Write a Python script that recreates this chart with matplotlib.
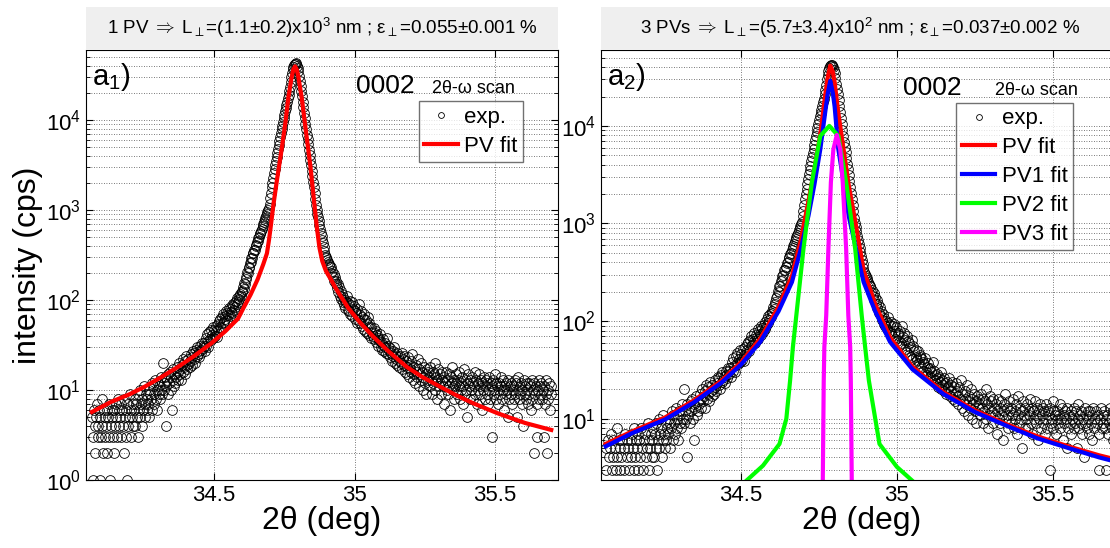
import matplotlib
matplotlib.use("Agg")
import matplotlib.pyplot as plt
import numpy as np
from matplotlib.patches import Rectangle
from matplotlib.ticker import LogLocator, NullFormatter, FixedLocator

plt.rcParams["font.family"] = ["Liberation Sans", "DejaVu Sans"]
plt.rcParams["mathtext.fontset"] = "custom"
plt.rcParams["mathtext.rm"] = "Liberation Sans"
plt.rcParams["mathtext.it"] = "Liberation Sans"
plt.rcParams["mathtext.bf"] = "Liberation Sans:bold"

# measured 2theta-omega scan (counts), step 0.0025 deg starting at 34.065
scan_start = 34.065
scan_step = 0.0025
counts = [
    5, 3, 1, 6, 4, 2, 5, 7, 3, 4, 6, 1, 5, 3, 8, 4, 2, 6, 5, 3,
    4, 6, 2, 5, 3, 7, 1, 4, 6, 5, 3, 2, 6, 4, 7, 5, 3, 8, 4, 6,
    5, 3, 7, 6, 4, 2, 8, 5, 3, 6, 1, 7, 4, 5, 9, 3, 6, 5, 7, 4,
    6, 8, 4, 7, 5, 9, 3, 6, 10, 5, 7, 8, 4, 6, 11, 7, 5, 9, 6, 8,
    7, 10, 5, 9, 8, 12, 6, 11, 9, 7, 13, 8, 10, 6, 12, 9, 11, 8, 14, 10,
    9, 20, 12, 10, 14, 4, 11, 13, 9, 15, 12, 16, 10, 14, 6, 13, 17, 11, 15, 12,
    14, 18, 13, 16, 20, 15, 17, 13, 19, 22, 16, 18, 21, 15, 24, 19, 17, 22, 20, 18,
    21, 25, 19, 23, 27, 22, 26, 20, 28, 24, 30, 25, 27, 23, 31, 28, 26, 33, 29, 31,
    33, 27, 38, 31, 42, 35, 30, 44, 37, 47, 36, 41, 50, 38, 46, 40, 52, 45, 39, 54,
    46, 58, 50, 61, 49, 64, 55, 70, 57, 66, 62, 75, 60, 72, 68, 82, 66, 79, 74, 88,
    72, 85, 78, 92, 83, 98, 90, 104, 96, 112, 103, 118, 110, 126, 122, 140, 134, 156, 150, 172,
    180, 205, 200, 230, 228, 258, 262, 290, 296, 330, 330, 360, 362, 398, 405, 445, 450, 490, 500, 540,
    562, 592, 623, 656, 691, 727, 766, 806, 850, 895, 943, 990, 1040, 1180, 1350, 1550, 1780, 2010, 2260, 2550,
    2870, 3190, 3550, 3920, 4330, 4780, 5280, 5830, 6440, 7110, 7850, 8670, 9570, 10500, 11500, 12500, 13500, 14700, 16000, 17400,
    19000, 21000, 23500, 26500, 30000, 33500, 36500, 39000, 41000, 42000, 42500, 41500, 40000, 37500, 35000, 31000, 27000, 24000, 21000, 18500,
    16000, 14000, 12000, 10500, 9100, 7900, 6900, 6100, 5350, 4700, 4100, 3600, 3160, 2740, 2370, 2050, 1780, 1540, 1330, 1150,
    1000, 910, 830, 750, 680, 620, 560, 510, 465, 425, 385, 350, 316, 303, 290, 277, 265, 253, 242, 231,
    230, 198, 210, 180, 195, 164, 178, 150, 163, 136, 150, 122, 138, 112, 126, 102, 118, 94, 108, 88,
    100, 82, 96, 110, 78, 92, 76, 98, 70, 88, 94, 66, 80, 86, 62, 76, 72, 56, 80, 60,
    90, 55, 68, 75, 52, 64, 48, 70, 62, 45, 60, 54, 43, 64, 41, 55, 49, 38, 50, 43,
    40, 49, 37, 43, 45, 34, 41, 38, 31, 36, 42, 30, 34, 28, 37, 32, 27, 33, 30, 26,
    38, 25, 31, 28, 23, 29, 26, 21, 27, 24, 30, 20, 25, 22, 19, 26, 23, 18, 24, 21,
    20, 26, 17, 22, 19, 24, 16, 21, 18, 15, 23, 19, 14, 17, 21, 16, 25, 13, 18, 15,
    12, 19, 16, 14, 22, 11, 17, 15, 13, 20, 16, 10, 14, 18, 12, 15, 9, 17, 13, 16,
    14, 11, 18, 13, 9, 16, 12, 15, 20, 10, 14, 8, 13, 17, 11, 15, 12, 9, 16, 13,
    11, 14, 7, 12, 16, 10, 13, 9, 15, 11, 6, 14, 12, 18, 10, 13, 8, 11, 15, 12,
    9, 13, 11, 16, 8, 12, 10, 14, 7, 11, 17, 9, 13, 10, 5, 12, 15, 11, 8, 13,
    10, 14, 8, 12, 11, 16, 9, 13, 7, 12, 10, 15, 11, 9, 13, 6, 12, 10, 14, 8,
    11, 13, 9, 12, 7, 10, 14, 8, 12, 11, 3, 13, 9, 10, 15, 8, 12, 11, 7, 10,
    12, 9, 11, 14, 8, 10, 13, 6, 11, 9, 12, 10, 5, 13, 8, 11, 9, 12, 7, 10,
    11, 8, 13, 9, 12, 5, 10, 14, 8, 11, 9, 12, 7, 10, 4, 13, 9, 11, 8, 12,
    10, 7, 12, 9, 11, 6, 13, 8, 10, 2, 12, 9, 11, 7, 3, 10, 13, 8, 11, 9,
    12, 8, 10, 3, 11, 7, 9, 13, 2, 10, 8, 12, 6, 9, 11,
]
two_theta = scan_start + scan_step * np.arange(len(counts))

# single pseudo-Voigt fit (panel a1)
fit1_x = [34.065, 34.134, 34.2, 34.253, 34.31, 34.372, 34.43, 34.49, 34.54, 34.585,
          34.604, 34.63, 34.655, 34.675, 34.688, 34.695, 34.70, 34.711, 34.725, 34.741,
          34.753, 34.764, 34.776, 34.782, 34.788, 34.794, 34.800, 34.812, 34.827, 34.842,
          34.857, 34.866, 34.875, 34.885, 34.898, 34.913, 34.93, 34.948, 34.978, 35.02,
          35.067, 35.12, 35.186, 35.24, 35.304, 35.36, 35.423, 35.51, 35.607, 35.70]
fit1_y = [5.7, 7.4, 9.0, 10.9, 13.8, 18.1, 24, 33, 45, 62,
          81, 115, 170, 250, 330, 457, 600, 1140, 2300, 4880,
          9000, 17500, 30000, 36500, 39500, 36500, 30000, 17500, 7400, 3200,
          1150, 630, 380, 270, 210, 175, 140, 114, 81, 56,
          39, 27, 18, 14, 10.9, 8.8, 7.1, 5.5, 4.3, 3.6]

# three pseudo-Voigt fit (panel a2)
pv_x = [34.065, 34.15, 34.256, 34.35, 34.437, 34.5, 34.561, 34.62, 34.663, 34.69,
        34.716, 34.735, 34.754, 34.77, 34.778, 34.786, 34.794, 34.80, 34.812, 34.83,
        34.845, 34.87, 34.893, 34.93, 34.978, 35.05, 35.15, 35.25, 35.35, 35.45,
        35.55, 35.65, 35.72]
pv_sum = [5.5, 7.4, 10.3, 15.5, 24.5, 38, 66, 140, 290, 640,
          1700, 3600, 8200, 21000, 31500, 41500, 36000, 28000, 13500, 5400,
          2500, 900, 330, 150, 68, 34, 18.6, 12.2, 8.8, 6.6,
          5.2, 4.2, 3.7]
pv1 = [5.2, 7.1, 9.8, 14.8, 23.4, 36, 61, 126, 251, 525,
       1200, 2500, 5750, 14000, 21500, 29000, 22000, 15800, 5750, 2500,
       1200, 525, 251, 126, 61, 32, 17.8, 11.7, 8.5, 6.3,
       5.0, 4.0, 3.5]
pv2_x = [34.516, 34.57, 34.623, 34.645, 34.657, 34.666, 34.677, 34.70, 34.727, 34.754,
         34.783, 34.812, 34.837, 34.866, 34.887, 34.898, 34.91, 34.944, 35.0, 35.05]
pv2 = [2.3, 3.3, 5.5, 10, 24.5, 54, 114, 550, 2650, 7900,
       10000, 7900, 2650, 550, 114, 54, 24.5, 5.5, 3.2, 2.3]
pv3_x = [34.762, 34.765, 34.767, 34.773, 34.780, 34.788, 34.796, 34.807, 34.818,
         34.826, 34.837, 34.844, 34.850, 34.852, 34.855]
pv3 = [2.3, 24, 54, 114, 550, 2650, 5750, 8070, 5750,
       2650, 550, 114, 54, 24, 2.3]

W, H = 1110, 548
fig = plt.figure(figsize=(W / 100, H / 100), dpi=100)


def px_axes(x0, x1, y0, y1):
    return fig.add_axes([x0 / W, 1 - y1 / H, (x1 - x0) / W, (y1 - y0) / H])


def style(ax, xlim, ylim):
    ax.set_yscale("log")
    ax.set_xlim(xlim)
    ax.set_ylim(ylim)
    ax.xaxis.set_major_locator(FixedLocator([34.5, 35, 35.5]))
    ax.set_xticklabels(["34.5", "35", "35.5"])
    ax.yaxis.set_major_locator(LogLocator(base=10, numticks=10))
    ax.yaxis.set_minor_locator(LogLocator(base=10, subs=np.arange(2, 10), numticks=30))
    ax.yaxis.set_minor_formatter(NullFormatter())
    ax.tick_params(which="both", direction="in", top=True, right=True, labelsize=16)
    ax.tick_params(which="major", length=5, width=0.8)
    ax.tick_params(which="minor", length=3, width=0.6)
    ax.grid(True, which="major", axis="both", ls=(0, (1, 2)), color="0.3", lw=0.6)
    ax.grid(True, which="minor", axis="y", ls=(0, (1, 2)), color="0.3", lw=0.6)
    ax.set_xlabel("2θ (deg)", fontsize=23, labelpad=0)
    for s in ax.spines.values():
        s.set_linewidth(0.8)


def title_box(x0, x1, text, xc):
    fig.add_artist(Rectangle((x0 / W, 1 - 50 / H), (x1 - x0) / W, 43 / H,
                             transform=fig.transFigure, facecolor="#efefef",
                             edgecolor="none"))
    fig.text(xc / W, 1 - 28 / H, text, ha="center", va="center", fontsize=13.5)


exp_style = dict(ls="none", marker="o", mfc="none", mec="k", ms=7, mew=0.6)
leg_style = dict(loc="upper left", fontsize=16, frameon=True, fancybox=False,
                 edgecolor="0.3", handlelength=1.5, handletextpad=0.3, borderpad=0.25,
                 labelspacing=0.35, borderaxespad=0, markerscale=0.6)

# panel a1
ax1 = px_axes(86, 558, 50, 480)
ax1.plot(two_theta, counts, label="exp.", **exp_style)
ax1.plot(fit1_x, fit1_y, color="red", lw=3, label="PV fit")
style(ax1, (34.044, 35.724), (1, 6e4))
ax1.set_ylabel("intensity (cps)", fontsize=23, labelpad=2)
ax1.text(0.012, 0.975, r"a$_1$)", transform=ax1.transAxes, fontsize=21, va="top")
ax1.text(0.572, 0.9, "0002", transform=ax1.transAxes, fontsize=19)
ax1.text(0.733, 0.9, "2θ-ω scan", transform=ax1.transAxes, fontsize=13)
ax1.legend(bbox_to_anchor=(0.705, 0.881), **leg_style)

# panel a2 (cropped on the right like the original)
ax2 = px_axes(601, 1122, 50, 480)
ax2.plot(two_theta, counts, label="exp.", **exp_style)
ax2.plot(pv_x, pv_sum, color="red", lw=3, label="PV fit")
ax2.plot(pv_x, pv1, color="blue", lw=3, label="PV1 fit")
ax2.plot(pv2_x, pv2, color="#00ff00", lw=3, label="PV2 fit")
ax2.plot(pv3_x, pv3, color="magenta", lw=3, label="PV3 fit")
style(ax2, (34.05, 34.05 + 521 / 311.5), (2.35, 6e4))
ax2.text(0.012, 0.975, r"a$_2$)", transform=ax2.transAxes, fontsize=21, va="top")
ax2.text(0.58, 0.895, "0002", transform=ax2.transAxes, fontsize=19)
ax2.text(0.756, 0.895, "2θ-ω scan", transform=ax2.transAxes, fontsize=13)
ax2.legend(bbox_to_anchor=(0.682, 0.877), **leg_style)

title_box(86, 558, r"1 PV$\;\Rightarrow\;$L$_{\perp}$=(1.1±0.2)x10$^3$ nm ; "
          r"ε$_{\perp}$=0.055±0.001 %", 322)
title_box(601, 1110, r"3 PVs$\;\Rightarrow\;$L$_{\perp}$=(5.7±3.4)x10$^2$ nm ; "
          r"ε$_{\perp}$=0.037±0.002 %", 860)

fig.savefig("out.png", dpi=100)
